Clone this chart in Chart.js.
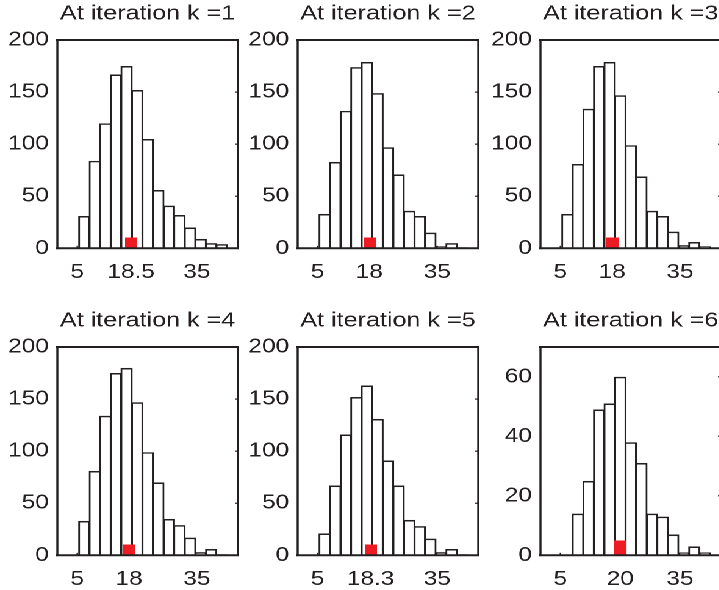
<!DOCTYPE html>
<html>
<head>
<meta charset="utf-8">
<script src="https://cdn.jsdelivr.net/npm/chart.js@4.4.1/dist/chart.umd.min.js"></script>
<style>
  html, body { margin: 0; padding: 0; background: #fff; width: 719px; height: 590px; overflow: hidden; }
  /* the original figure is stretched sideways, so the whole stage is too */
  #stage { position: absolute; left: 0; top: 0; width: 600px; height: 590px; transform: scaleX(1.22); transform-origin: 0 0; }
  #stage canvas { position: absolute; }
</style>
</head>
<body>
<div id="stage">
  <canvas id="c1" width="202" height="283" style="left:0px;top:0px"></canvas>
  <canvas id="c2" width="202" height="283" style="left:196.7px;top:0px"></canvas>
  <canvas id="c3" width="202" height="283" style="left:395.9px;top:0px"></canvas>
  <canvas id="c4" width="202" height="283" style="left:0px;top:307px"></canvas>
  <canvas id="c5" width="202" height="283" style="left:196.7px;top:307px"></canvas>
  <canvas id="c6" width="202" height="283" style="left:395.9px;top:307px"></canvas>
</div>
<script>
// Datos
const binCenters = [4.1, 6.76, 9.41, 12.07, 14.72, 17.37, 20.03, 22.68, 25.33, 27.99, 30.64, 33.29, 35.95, 38.6, 41.25];
const counts1 = [0, 31, 84, 120, 167, 175, 152, 105, 56, 41, 32, 20, 9, 5, 4];
const counts2 = [0, 33, 83, 132, 174, 179, 149, 97, 71, 36, 31, 15, 2, 5, 1];
const counts3 = [0, 33, 81, 134, 175, 179, 147, 99, 69, 36, 31, 16, 3, 6, 2];
const counts4 = [0, 33, 81, 134, 175, 180, 147, 99, 70, 35, 29, 17, 3, 6, 1];
const counts5 = [0, 21, 67, 116, 152, 163, 131, 91, 67, 34, 28, 16, 3, 6, 1];
const counts6 = [0, 0, 14, 25, 49, 51, 60, 38, 31, 14, 13, 7, 1, 3, 1];
const allCounts = [counts1, counts2, counts3, counts4, counts5, counts6];

const iterations = [1, 2, 3, 4, 5, 6];
const markerX = [18.5, 18, 18, 18, 18.3, 20];
const markerY = [5.3, 5.3, 5.3, 5.3, 5.3, 2.5];
const yMax = [200, 200, 200, 200, 200, 70];
const yTicksBig = [0, 50, 100, 150, 200];
const yTicksSmall = [0, 20, 40, 60];
const xTickEnds = [5, 35];
const xMin = 0;
const xMax = 45.3;

const INK = "#231f20";
const RED = "#ed1c24";
const FONT = { family: "'Liberation Sans', Arial, sans-serif", size: 20, lineHeight: 1.2 };
const TITLE_FONT = { family: "'Liberation Sans', Arial, sans-serif", size: 20.6, lineHeight: 1.2, weight: "normal" };
const EDGE = 1.6;
const MARKER_W = 10;
const MARKER_H = [11, 11, 11, 11, 11, 15];

// red block used as the point style of the marker
const markerImage = (h) => {
  const c = document.createElement("canvas");
  c.width = MARKER_W;
  c.height = h;
  const g = c.getContext("2d");
  g.fillStyle = RED;
  g.fillRect(0, 0, MARKER_W, h);
  return c;
};

// axes box like the matlab figure
const matlabBox = {
  id: "matlabBox",
  beforeDatasetsDraw(chart) {
    const { ctx, chartArea: a } = chart;
    const x = chart.scales.x;
    ctx.save();
    ctx.strokeStyle = INK;
    ctx.lineWidth = 1.2;
    x.ticks.forEach((t) => {
      const px = x.getPixelForValue(t.value);
      ctx.beginPath();
      ctx.moveTo(px, a.bottom);
      ctx.lineTo(px, a.bottom - 2.5);
      ctx.stroke();
    });
    ctx.restore();
  },
  afterDatasetsDraw(chart) {
    const { ctx, chartArea: a } = chart;
    const y = chart.scales.y;
    ctx.save();
    ctx.strokeStyle = INK;
    ctx.lineCap = "square";
    ctx.lineWidth = 2;
    ctx.beginPath();
    ctx.moveTo(a.left, a.top);
    ctx.lineTo(a.right, a.top);
    ctx.moveTo(a.left, a.bottom);
    ctx.lineTo(a.right, a.bottom);
    ctx.stroke();
    ctx.lineWidth = 1.7;
    ctx.beginPath();
    ctx.moveTo(a.left, a.top);
    ctx.lineTo(a.left, a.bottom);
    ctx.moveTo(a.right, a.top);
    ctx.lineTo(a.right, a.bottom);
    ctx.stroke();
    ctx.lineCap = "butt";
    ctx.lineWidth = 1.2;
    y.ticks.forEach((t) => {
      const py = y.getPixelForValue(t.value);
      ctx.beginPath();
      ctx.moveTo(a.right, py);
      ctx.lineTo(a.right - 2.5, py);
      ctx.stroke();
    });
    ctx.restore();
  },
};

const makePanel = (i) => {
  const counts = allCounts[i];
  const yTicks = yMax[i] > 100 ? yTicksBig : yTicksSmall;
  const xTicks = [xTickEnds[0], markerX[i], xTickEnds[1]];

  new Chart(document.getElementById("c" + (i + 1)), {
    type: "bar",
    data: {
      datasets: [
        {
          // red marker on top of the histogram
          type: "scatter",
          data: [{ x: markerX[i], y: markerY[i] }],
          pointStyle: markerImage(MARKER_H[i]),
          pointRadius: 6,
          showLine: false,
          clip: false,
        },
        {
          data: binCenters.map((x, j) => ({ x, y: counts[j] })),
          backgroundColor: "#ffffff",
          borderColor: INK,
          borderWidth: EDGE,
          borderSkipped: "start",
          inflateAmount: 0,
          // bars overlap a little so neighbours share one line
          barPercentage: 1.1585,
          categoryPercentage: 1,
        },
      ],
    },
    options: {
      responsive: false,
      animation: false,
      devicePixelRatio: 2,
      layout: { padding: { left: 0, right: 4.2, top: 0, bottom: 0 } },
      plugins: {
        legend: { display: false },
        tooltip: { enabled: false },
        title: {
          display: true,
          text: "At iteration k =" + iterations[i],
          fullSize: false,
          color: INK,
          font: TITLE_FONT,
          padding: { top: 1.4, bottom: 13.9 },
        },
      },
      scales: {
        x: {
          type: "linear",
          min: xMin,
          max: xMax,
          offset: false,
          grid: { display: false, drawTicks: false },
          border: { display: false },
          afterBuildTicks: (s) => {
            s.ticks = xTicks.map((v) => ({ value: v }));
          },
          afterFit: (s) => {
            s.height = 34.7;
          },
          ticks: {
            padding: 12.4,
            color: INK,
            font: FONT,
            maxRotation: 0,
            autoSkip: false,
            callback: (v) => String(v),
          },
        },
        y: {
          min: 0,
          max: yMax[i],
          grid: { display: false, drawTicks: false },
          border: { display: false },
          afterBuildTicks: (s) => {
            s.ticks = yTicks.map((v) => ({ value: v }));
          },
          afterFit: (s) => {
            s.width = 47;
          },
          ticks: {
            padding: 7,
            color: INK,
            font: FONT,
            callback: (v) => String(v),
          },
        },
      },
    },
    plugins: [matlabBox],
  });
};

iterations.forEach((k, i) => makePanel(i));
</script>
</body>
</html>
